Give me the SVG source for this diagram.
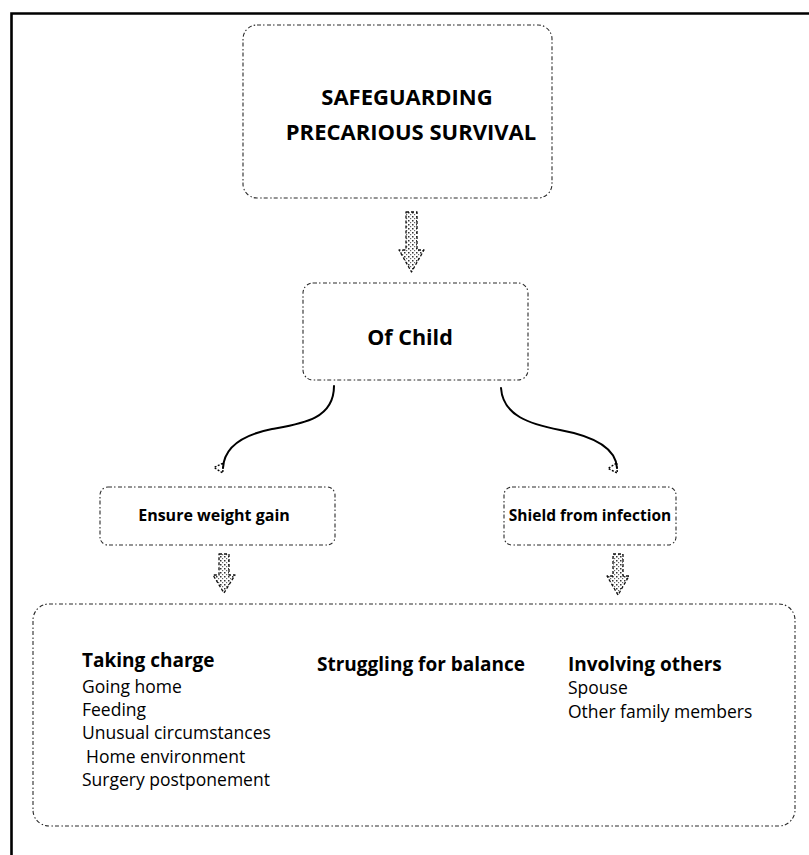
<svg xmlns="http://www.w3.org/2000/svg" width="809" height="855" viewBox="0 0 809 855">
  <style>
    .box { fill: none; stroke: #2a2a2a; stroke-width: 1.1; stroke-dasharray: 4 2 1.5 2.5; }
    .frame { fill: none; stroke: #000; stroke-width: 2.6; }
    .blk { fill: url(#grain); stroke: #111; stroke-width: 1.3; stroke-dasharray: 3 2; stroke-linejoin: round; }
    .curve { fill: none; stroke: #000; stroke-width: 2; stroke-linecap: round; }
    text { font-family: "Open Sans", "Noto Sans", "DejaVu Sans", sans-serif; fill: #000; }
    .title { font-size: 22px; font-weight: 700; text-anchor: middle; }
    .mid { font-size: 21.5px; font-weight: 700; text-anchor: middle; }
    .small { font-size: 16px; font-weight: 700; text-anchor: middle; }
    .head { font-size: 19px; font-weight: 700; }
    .item { font-size: 17.5px; }
  </style>
  <defs>
    <pattern id="grain" width="4" height="4" patternUnits="userSpaceOnUse">
      <rect width="4" height="4" fill="#fff"/>
      <rect x="0" y="0" width="1.5" height="1.5" fill="#333"/>
      <rect x="2" y="2" width="1.2" height="1.2" fill="#666"/>
    </pattern>
    <marker id="tip" viewBox="0 0 12 12" refX="6" refY="2" markerWidth="12" markerHeight="12" markerUnits="userSpaceOnUse" orient="auto-start-reverse">
      <path d="M1,2 L11,2 L6,11 Z" fill="none" stroke="#000" stroke-width="1.4" stroke-dasharray="2 1.5"/>
    </marker>
  </defs>

  <!-- page frame (top and left edges) -->
  <path class="frame" d="M11.5,855 V13.5 H809"/>

  <g id="node-safeguarding">
    <rect class="box" x="243" y="25" width="309" height="173" rx="14"/>
    <text class="title" x="407" y="105">SAFEGUARDING</text>
    <text class="title" x="411" y="140">PRECARIOUS SURVIVAL</text>
  </g>

  <g id="node-of-child">
    <rect class="box" x="303" y="283" width="225" height="97" rx="10"/>
    <text class="mid" x="410" y="345">Of Child</text>
  </g>

  <g id="node-weight">
    <rect class="box" x="100" y="487" width="235" height="58" rx="8"/>
    <text class="small" x="214" y="521">Ensure weight gain</text>
  </g>

  <g id="node-infection">
    <rect class="box" x="504" y="487" width="172" height="58" rx="8"/>
    <text class="small" x="590" y="521" style="font-size:15.5px">Shield from infection</text>
  </g>

  <g id="node-strategies">
    <rect class="box" x="33" y="604" width="762" height="222" rx="16"/>
    <text class="head" x="82" y="667">Taking charge</text>
    <text class="item" x="82" y="693">Going home</text>
    <text class="item" x="82" y="716">Feeding</text>
    <text class="item" x="82" y="739">Unusual circumstances</text>
    <text class="item" x="86" y="763">Home environment</text>
    <text class="item" x="82" y="786">Surgery postponement</text>
    <text class="head" x="317" y="671">Struggling for balance</text>
    <text class="head" x="568" y="671">Involving others</text>
    <text class="item" x="568" y="694">Spouse</text>
    <text class="item" x="568" y="718">Other family members</text>
  </g>

  <g id="connectors">
    <!-- block arrow: title to Of Child -->
    <path class="blk" d="M406,212 H417 V250 H424 L411.5,272 L399,250 H406 Z"/>
    <!-- curved links from Of Child to the two aims -->
    <path class="curve" d="M334,386 C334,420 300,424 272,429 C242,435 224,448 223,468" marker-end="url(#tip)"/>
    <path class="curve" d="M501,388 C503,416 530,424 560,430 C598,437 616,450 617,468" marker-end="url(#tip)"/>
    <!-- block arrows: aims to strategies -->
    <path class="blk" d="M219,554 H229 V575 H235 L224,593 L213,575 H219 Z"/>
    <path class="blk" d="M613,554 H623 V576 H629 L618,595 L607,576 H613 Z"/>
  </g>
</svg>
